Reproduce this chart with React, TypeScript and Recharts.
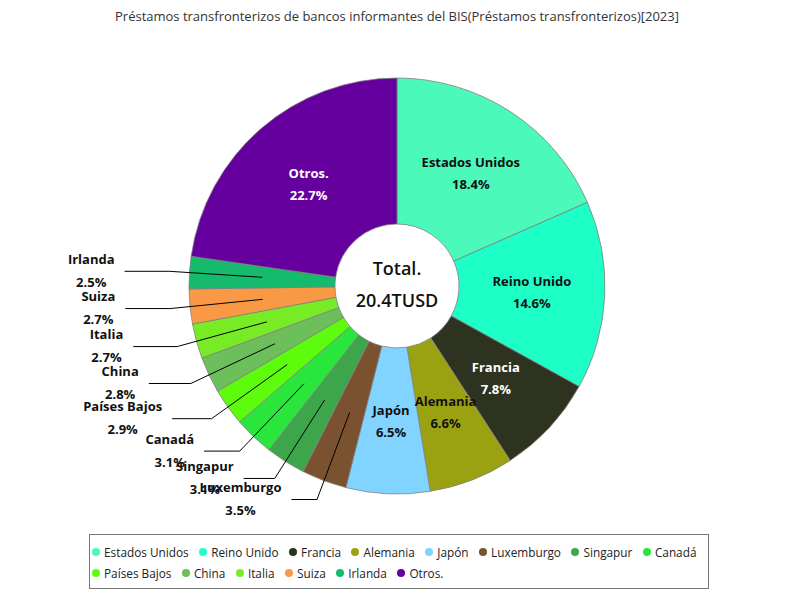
import React from 'react';
import { PieChart, Pie, Cell, Legend } from 'recharts';

const chartTitle = 'Préstamos transfronterizos de bancos informantes del BIS(Préstamos transfronterizos)[2023]';
const categories = ['Estados Unidos', 'Reino Unido', 'Francia', 'Alemania', 'Japón', 'Luxemburgo', 'Singapur', 'Canadá', 'Países Bajos', 'China', 'Italia', 'Suiza', 'Irlanda', 'Otros.'];
const shares = [18.4, 14.6, 7.8, 6.6, 6.5, 3.5, 3.1, 3.1, 2.9, 2.8, 2.7, 2.7, 2.5, 22.7];
const colors = ['#4BF9BA', '#1EFFC8', '#2E3320', '#9AA211', '#80D4FF', '#7A5230', '#3EA64A', '#2AE53C', '#5CFC0C', '#6CBF5A', '#77EC25', '#F99945', '#15BA6C', '#65009F'];
const centerLines = ['Total.', '20.4TUSD'];
const legendRowSize = 8;

const data = categories.map((name, i) => ({ name, value: shares[i] }));

const FONT = '"Open Sans", sans-serif';
const RAD = Math.PI / 180;

let canvasCtx: CanvasRenderingContext2D | null = null;
function measure(text: string, font: string): number {
  if (!canvasCtx) {
    const c = document.createElement('canvas');
    canvasCtx = c.getContext('2d');
  }
  if (!canvasCtx) return text.length * 7;
  canvasCtx.font = font;
  return canvasCtx.measureText(text).width;
}

function isDark(hex: string): boolean {
  const r = parseInt(hex.slice(1, 3), 16);
  const g = parseInt(hex.slice(3, 5), 16);
  const b = parseInt(hex.slice(5, 7), 16);
  return (0.299 * r + 0.587 * g + 0.114 * b) / 255 < 0.3;
}

const renderLabel = (props: any) => {
  const { cx, cy, midAngle, innerRadius, outerRadius, index } = props;
  const share = shares[index];
  const name = categories[index];
  const pct = share.toFixed(1) + '%';
  const cos = Math.cos(-midAngle * RAD);
  const sin = Math.sin(-midAngle * RAD);
  const midR = (innerRadius + outerRadius) / 2;
  const px = cx + midR * cos;
  const py = cy + midR * sin;
  const fontSize = 13;
  const center =
    index === 0 ? (
      <g>
        <text x={cx} y={cy - 18} textAnchor="middle" dominantBaseline="central" fill="#111" fontSize={18} fontWeight={600} fontFamily={FONT}>{centerLines[0]}</text>
        <text x={cx} y={cy + 14} textAnchor="middle" dominantBaseline="central" fill="#111" fontSize={18} fontWeight={600} fontFamily={FONT}>{centerLines[1]}</text>
      </g>
    ) : null;
  if (share >= 5) {
    const fill = isDark(colors[index]) ? '#ffffff' : '#111111';
    return (
      <g>
        {center}
        <text x={px} y={py - 11} textAnchor="middle" dominantBaseline="central" fill={fill} fontSize={fontSize} fontWeight="bold" fontFamily={FONT}>{name}</text>
        <text x={px} y={py + 11} textAnchor="middle" dominantBaseline="central" fill={fill} fontSize={fontSize} fontWeight="bold" fontFamily={FONT}>{pct}</text>
      </g>
    );
  }
  const elbowR = outerRadius + 20;
  const ex = cx + elbowR * cos;
  const ey = cy + elbowR * sin;
  const dir = cos < 0 ? -1 : 1;
  const len = 15 + 30 * Math.abs(cos);
  const lx = ex + dir * len;
  const font = `bold ${fontSize}px ${FONT}`;
  const w = Math.max(measure(name, font), measure(pct, font));
  const tx = lx + dir * (10 + w / 2);
  return (
    <g>
      {center}
      <polyline points={`${px},${py} ${ex},${ey} ${lx},${ey}`} fill="none" stroke="#000" strokeWidth={1} />
      <text x={tx} y={ey - 12.5} textAnchor="middle" dominantBaseline="central" fill="#111" fontSize={fontSize} fontWeight="bold" fontFamily={FONT}>{name}</text>
      <text x={tx} y={ey + 10.5} textAnchor="middle" dominantBaseline="central" fill="#111" fontSize={fontSize} fontWeight="bold" fontFamily={FONT}>{pct}</text>
    </g>
  );
};

const legendItem = (c: string, i: number) => (
  <div key={c} style={{ display: 'flex', alignItems: 'center', height: 21, marginRight: 10.5, whiteSpace: 'nowrap' }}>
    <span style={{ display: 'inline-block', width: 8, height: 8, borderRadius: 4, background: colors[i], marginRight: 4 }} />
    <span>{c}</span>
  </div>
);

const renderLegend = () => (
  <div
    style={{
      boxSizing: 'border-box',
      width: 620,
      height: 55,
      border: '1px solid #777',
      padding: '6px 0 0 2px',
      fontFamily: FONT,
      fontSize: 11.8,
      color: '#222',
      background: '#fff',
      overflow: 'hidden',
    }}
  >
    <div style={{ display: 'flex', flexWrap: 'nowrap' }}>
      {categories.slice(0, legendRowSize).map((c, i) => legendItem(c, i))}
    </div>
    <div style={{ display: 'flex', flexWrap: 'nowrap' }}>
      {categories.slice(legendRowSize).map((c, i) => legendItem(c, i + legendRowSize))}
    </div>
  </div>
);

export default function App() {
  return (
    <div style={{ position: 'fixed', left: 0, top: 0, width: 800, height: 600, background: '#fff' }}>
      <div
        style={{
          position: 'absolute',
          left: 0,
          top: 7,
          width: 794,
          textAlign: 'center',
          fontFamily: FONT,
          fontSize: 13,
          color: '#333',
        }}
      >
        {chartTitle}
      </div>
      <PieChart width={800} height={600} margin={{ top: 0, right: 0, bottom: 0, left: 0 }} style={{ position: 'absolute', left: 0, top: 0 }}>
        <Pie
          data={data}
          dataKey="value"
          nameKey="name"
          cx={397}
          cy={286}
          innerRadius={62}
          outerRadius={208}
          startAngle={90}
          endAngle={-270}
          stroke="#808080"
          strokeWidth={0.8}
          isAnimationActive={false}
          label={renderLabel}
          labelLine={false}
        >
          {data.map((d, i) => (
            <Cell key={d.name} fill={colors[i]} />
          ))}
        </Pie>
        <Legend
          content={renderLegend}
          wrapperStyle={{ position: 'absolute', left: 89, top: 534, width: 620, height: 55 }}
        />
      </PieChart>
    </div>
  );
}
